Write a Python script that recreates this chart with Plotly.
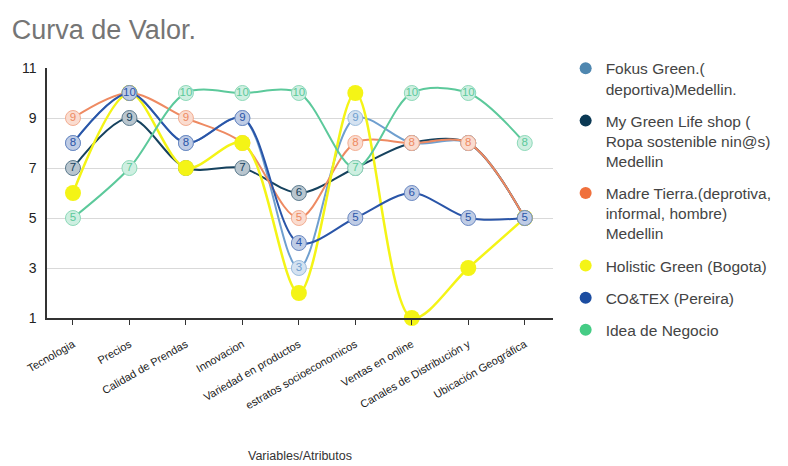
import plotly.graph_objects as go

# Atributos evaluados en la curva de valor
categorias = [
    "Tecnologia",
    "Precios",
    "Calidad de Prendas",
    "Innovacion",
    "Variedad en productos",
    "estratos socioeconomicos",
    "Ventas en online",
    "Canales de Distribución y",
    "Ubicación Geográfica",
]

fokus_green = [8, 10, 8, 9, 3, 9, 8, 8, 5]
my_green_life = [7, 9, 7, 7, 6, 7, 8, 8, 5]
madre_tierra = [9, 10, 9, 8, 5, 8, 8, 8, 5]
holistic_green = [6, 10, 7, 8, 2, 10, 1, 3, 5]
co_tex = [8, 10, 8, 9, 4, 5, 6, 5, 5]
idea_negocio = [5, 7, 10, 10, 10, 7, 10, 10, 8]

y_ticks = [1, 3, 5, 7, 9, 11]

series = [
    ("Fokus Green.(<br>deportiva)Medellin.", fokus_green, "#4f87b0", "#6f9fcf", True),
    ("My Green Life shop (<br>Ropa sostenible nin@s)<br>Medellin", my_green_life, "#0b3954", "#16425e", True),
    ("Madre Tierra.(deprotiva,<br>informal, hombre)<br>Medellin", madre_tierra, "#f0703c", "#ee8a62", True),
    ("Holistic Green (Bogota)", holistic_green, "#f4f416", "#f4f416", False),
    ("CO&TEX (Pereira)", co_tex, "#1c4da1", "#2a55a8", True),
    ("Idea de Negocio", idea_negocio, "#45cc85", "#5cc99b", True),
]


def tint(hex_color, amount):
    """Blend a colour towards white, keeping it opaque."""
    h = hex_color.lstrip("#")
    rgb = [int(h[k:k + 2], 16) for k in (0, 2, 4)]
    mixed = [round(c * amount + 255 * (1 - amount)) for c in rgb]
    return "rgb({},{},{})".format(*mixed)


fig = go.Figure()

for i, (name, values, legend_color, line_color, labelled) in enumerate(series):
    if labelled:
        fig.add_trace(go.Scatter(
            x=categorias, y=values, mode="lines+markers+text",
            text=[str(v) for v in values], textposition="middle center",
            textfont=dict(family="Liberation Sans, Arial", size=11.5, color=line_color),
            line=dict(color=line_color, width=2, shape="spline", smoothing=0.9),
            marker=dict(size=15, color=tint(line_color, 0.3),
                        line=dict(color=tint(line_color, 0.7), width=1)),
            showlegend=False, cliponaxis=False, hoverinfo="skip",
        ))
    else:
        fig.add_trace(go.Scatter(
            x=categorias, y=values, mode="lines+markers",
            line=dict(color=line_color, width=2.5, shape="spline", smoothing=0.9),
            marker=dict(size=16, color=line_color),
            showlegend=False, cliponaxis=False, hoverinfo="skip",
        ))
    # legend entry: plain coloured dot
    fig.add_trace(go.Scatter(
        x=[None], y=[None], mode="markers", name=name,
        marker=dict(size=15, color=legend_color),
        legendgroup=f"g{i}", showlegend=True,
    ))

fig.update_layout(
    width=788, height=466,
    margin=dict(l=47, r=235, t=68, b=148, autoexpand=False),
    paper_bgcolor="white", plot_bgcolor="white",
    font=dict(family="Liberation Sans, Arial", color="#333333"),
    title=dict(text="Curva de Valor.", x=0.015, xanchor="left", y=0.937, yanchor="middle",
               font=dict(size=27, color="#757575")),
    legend=dict(x=1.025, xanchor="left", y=1.065, yanchor="top",
                font=dict(size=15.5, color="#444444"), valign="top",
                tracegroupgap=9, itemsizing="constant", bgcolor="rgba(0,0,0,0)",
                maxheight=420),
    xaxis=dict(
        type="category", range=[-0.46, 8.5],
        showline=True, linecolor="#333333", linewidth=1.5,
        ticks="outside", ticklen=5, tickcolor="#333333",
        tickangle=-30, tickfont=dict(size=11, color="#222222"),
        ticklabelstandoff=9,
        showgrid=False, zeroline=False,
    ),
    yaxis=dict(
        range=[1, 11], tickvals=y_ticks,
        showline=True, linecolor="#333333", linewidth=1.5,
        showgrid=True, gridcolor="#d9d9d9", gridwidth=1,
        tickfont=dict(size=14, color="#222222"), zeroline=False,
        ticklabelstandoff=6,
    ),
    annotations=[dict(
        text="Variables/Atributos", xref="paper", yref="paper",
        x=0.5, y=-0.552, xanchor="center", yanchor="middle",
        showarrow=False, font=dict(size=12.5, color="#333333"),
    )],
)

fig.write_html("out.html")
